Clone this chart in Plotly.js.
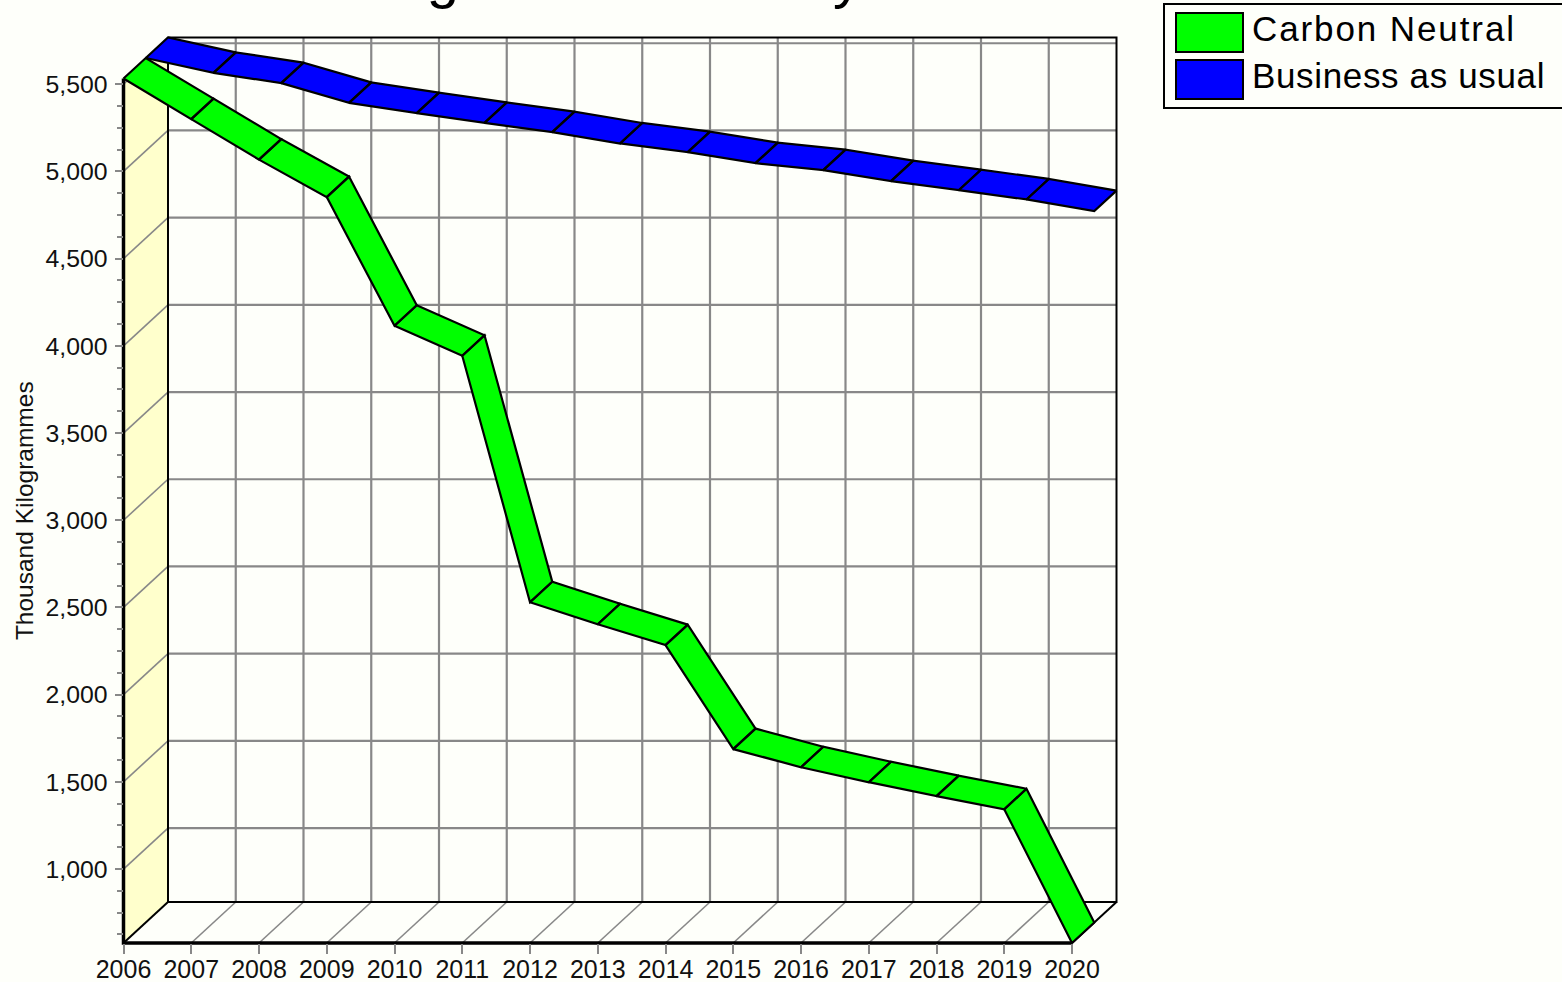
<!DOCTYPE html>
<html>
<head>
<meta charset="utf-8">
<script src="https://cdn.plot.ly/plotly-3.0.1.min.js"></script>
<style>html,body{margin:0;padding:0;background:#FEFFFA;overflow:hidden}</style>
</head>
<body>
<div id="chart" style="width:1562px;height:982px"></div>
<script>
const years = [2006,2007,2008,2009,2010,2011,2012,2013,2014,2015,2016,2017,2018,2019,2020];
const carbonNeutral = [5533,5300,5068,4853,4115,3943,2530,2404,2284,1688,1584,1498,1418,1343,576];
const businessAsUsual = [5533,5448,5389,5276,5217,5161,5108,5043,4993,4930,4890,4827,4775,4722,4655];
const yTicks = [1000,1500,2000,2500,3000,3500,4000,4500,5000,5500];
const yTickText = ['1,000','1,500','2,000','2,500','3,000','3,500','4,000','4,500','5,000','5,500'];
const yMinorTicks = [625,750,875,1125,1250,1375,1625,1750,1875,2125,2250,2375,2625,2750,2875,3125,3250,3375,3625,3750,3875,4125,4250,4375,4625,4750,4875,5125,5250,5375];
const yMin = 576, yMax = 5533;
const seriesNames = ['Carbon Neutral','Business as usual'];
const seriesColors = ['#00FF00','#0000FF'];

// Pixel frame of the front plane, and the oblique depth of the box
const W = 1562, H = 982, L = 123.5, R = 1072, T = 78.5, B = 943;
const x0 = years[0], x1 = years[years.length - 1];
const pxPerYear = (R - L) / (x1 - x0), pxPerUnit = (B - T) / (yMax - yMin);
const depthX = 44.5 / pxPerYear, depthY = 41 / pxPerUnit;
const GRID = '#888888', INK = '#000000', BG = '#FEFFFA', WALL = '#FFFFCC';
const FONT = '"Liberation Sans", Arial, sans-serif';

// The drawing axes cover the whole oblique box with a small pad; same scale as the front axes
const padL = 110, padR = 1126, padT = 28, padB = 952;
const drawX = [x0 + (padL - L) / pxPerYear, x0 + (padR - L) / pxPerYear];
const drawY = [yMin - (padB - B) / pxPerUnit, yMin + (B - padT) / pxPerUnit];

function lines(segs) {
  const x = [], y = [];
  segs.forEach(s => { s.forEach(p => { x.push(p[0]); y.push(p[1]); }); x.push(null); y.push(null); });
  return {x, y};
}
function back(x, v, f) { return [x + f * depthX, v + f * depthY]; }
function pathTrace(segs, color, width, extra) {
  return Object.assign({type:'scatter', mode:'lines', xaxis:'x', yaxis:'y', hoverinfo:'skip', showlegend:false,
    line:{color:color, width:width}}, lines(segs), extra || {});
}
function ribbon(vals, f0, f1, name, color) {
  const segs = [];
  for (let i = 0; i < vals.length - 1; i++) {
    segs.push([back(years[i],vals[i],f0), back(years[i+1],vals[i+1],f0), back(years[i+1],vals[i+1],f1), back(years[i],vals[i],f1), back(years[i],vals[i],f0)]);
  }
  return pathTrace(segs, INK, 2.2, {name:name, fill:'toself', fillcolor:color});
}

const traces = [
  // side wall
  pathTrace([[ [x0,yMin], back(x0,yMin,1), back(x0,yMax,1), [x0,yMax], [x0,yMin] ]], 'rgba(0,0,0,0)', 0, {fill:'toself', fillcolor:WALL}),
  // grey grid: back wall verticals, floor diagonals, back wall horizontals, wall diagonals
  pathTrace(years.slice(1,-1).map(y => [back(y,yMin,1), back(y,yMax,1)]), GRID, 2.2),
  pathTrace(years.slice(1,-1).map(y => [[y,yMin], back(y,yMin,1)]), GRID, 1.6),
  pathTrace(yTicks.map(v => [back(x0,v,1), back(x1,v,1)]), GRID, 2.2),
  pathTrace(yTicks.map(v => [[x0,v], back(x0,v,1)]), GRID, 1.6),
  // black box edges
  pathTrace([[ back(x0,yMax,1), back(x1,yMax,1), back(x1,yMin,1), back(x0,yMin,1), back(x0,yMax,1) ],
             [ [x0,yMin], back(x0,yMin,1) ], [ [x1,yMin], back(x1,yMin,1) ]], INK, 2),
  // thick front axis lines
  pathTrace([[ [x0,yMax], [x0,yMin], [x1,yMin] ]], INK, 3.5),
  ribbon(businessAsUsual, 0.5, 1, seriesNames[1], seriesColors[1]),
  ribbon(carbonNeutral, 0, 0.5, seriesNames[0], seriesColors[0]),
  // carries the front axes (ticks, labels)
  {type:'scatter', mode:'lines', xaxis:'x2', yaxis:'y2', x:[x0,x1], y:[yMin,yMin], line:{width:0, color:INK}, hoverinfo:'skip', showlegend:false}
];

const px = v => v / W;
const py = v => 1 - v / H;
const paperRect = (a,b,c,d,fill,w) => ({type:'rect', xref:'paper', yref:'paper', x0:px(a), x1:px(c), y0:py(b), y1:py(d),
  fillcolor:fill, line:{color:INK, width:w}, layer:'above'});
const legendText = (t, yc, spacing) => ({xref:'paper', yref:'paper', x:px(1250), y:py(yc), xanchor:'left', yanchor:'middle', showarrow:false,
  text:'<span style="letter-spacing:'+spacing+'px">'+t+'</span>', font:{family:FONT, size:35, color:'#000'}});

const layout = {
  width:W, height:H, paper_bgcolor:BG, plot_bgcolor:'rgba(0,0,0,0)', showlegend:false,
  margin:{l:0, r:0, t:0, b:0, pad:0, autoexpand:false},
  title:{text:'Reducing Carbon Use by 2020', font:{family:FONT, size:58, color:'#000'},
    xref:'container', x:214/W, xanchor:'left', yref:'container', y:1, yanchor:'bottom', pad:{b:3}},
  xaxis:{domain:[px(padL),px(padR)], range:drawX, visible:false, fixedrange:true},
  yaxis:{domain:[py(padB),py(padT)], range:drawY, visible:false, fixedrange:true},
  xaxis2:{domain:[px(L),px(R)], range:[x0,x1], anchor:'y2', tickvals:years, ticktext:years.map(String), ticks:'outside', ticklen:10, tickwidth:2, tickcolor:GRID,
    showgrid:false, zeroline:false, showline:false,
    tickangle:0, ticklabelstandoff:-6, tickfont:{family:FONT, size:25, color:'#111'}},
  yaxis2:{domain:[py(B),py(T)], range:[yMin,yMax], anchor:'x2', tickvals:yTicks, ticktext:yTickText, ticks:'outside', ticklen:8, tickwidth:2, tickcolor:GRID,
    minor:{tickvals:yMinorTicks, ticks:'outside', ticklen:6, tickwidth:2, tickcolor:GRID, showgrid:false},
    showgrid:false, zeroline:false, showline:false, ticklabelstandoff:2,
    tickfont:{family:FONT, size:24.8, color:'#111'},
    title:{text:'Thousand Kilogrammes', standoff:4, font:{family:FONT, size:24.5, color:'#111'}}},
  shapes:[
    paperRect(1164,4,1566,108,'#FEFFFA',2),
    paperRect(1176,13,1243,52,seriesColors[0],2),
    paperRect(1176,60,1243,99,seriesColors[1],2)
  ],
  annotations:[
    legendText(seriesNames[0],28.5,1.9),
    legendText(seriesNames[1],75.5,0.65)
  ]
};
Plotly.newPlot('chart', traces, layout, {displayModeBar:false, responsive:false});
</script>
</body>
</html>
